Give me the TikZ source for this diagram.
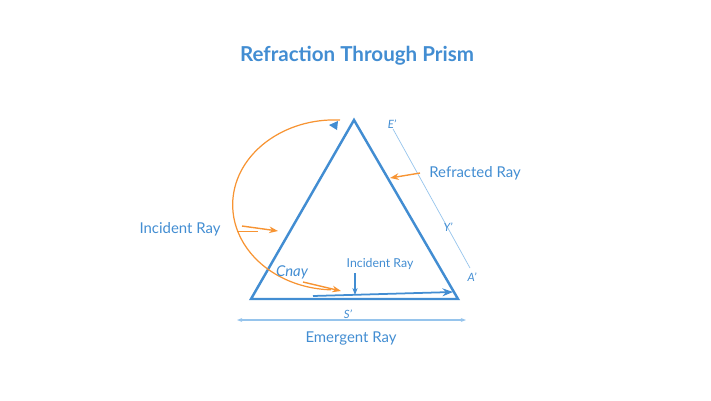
\documentclass[tikz,border=0pt]{standalone}
\usepackage{fontspec}
\setmainfont{Lato}
\usetikzlibrary{arrows.meta,positioning,calc}

\definecolor{prismblue}{RGB}{66,141,210}
\definecolor{rayorange}{RGB}{247,148,51}
\definecolor{guideblue}{RGB}{150,196,236}

\begin{document}
\begin{tikzpicture}[x=0.02cm, y=-0.02cm, every node/.style={font=\fontsize{8.5}{10}\selectfont, text=prismblue}]
				\useasboundingbox (0,0) rectangle (711,400);
				\node[font=\fontsize{11.7}{14}\selectfont\bfseries] (title) at (357,56) {Refraction Through Prism};
				% prism
				\coordinate (apex) at (354,120);
				\coordinate (bl) at (251,299);
				\coordinate (br) at (458,299);
				\draw[prismblue, line width=1.4pt, line join=miter] (apex) -- (br) -- (bl) -- cycle;
				% guide line on the right
				\coordinate (e1) at (393,129);
				\coordinate (a1) at (470,268);
				\draw[guideblue, line width=0.4pt] (e1) -- (a1);
				\node[font=\fontsize{6.5}{7}\selectfont\itshape] (eprime) at (392,124) {E'};
				\node[font=\fontsize{6.5}{7}\selectfont\itshape] (yprime) at (448,227) {Y'};
				\node[font=\fontsize{6.5}{7}\selectfont\itshape] (aprime) at (472,277) {A'};
				% refracted ray
				\node (refr) at (475,173) {Refracted Ray};
				\coordinate (r1) at (420,173);
				\coordinate (r2) at (390,178);
				\draw[-{Stealth[length=5pt]}, rayorange, line width=0.8pt] (r1) -- (r2);
				% big orange arc
				\coordinate (arcstart) at (340,120);
				\draw[rayorange, line width=0.7pt] (arcstart) arc[start angle=-87, end angle=-268, x radius=102, y radius=85];
				\fill[prismblue] (329,125) -- (338,121) -- (337,130) -- cycle;
				% incident ray (left)
				\node (incleft) at (180,229) {Incident Ray};
				\coordinate (i1) at (242,226);
				\coordinate (i2) at (278,231);
				\coordinate (i3) at (237,231);
				\coordinate (i4) at (258,231);
				\draw[-{Stealth[length=5pt]}, rayorange, line width=0.8pt] (i1) -- (i2);
				\draw[rayorange, line width=0.5pt] (i3) -- (i4);
				% inner labels
				\node[font=\fontsize{8.5}{10}\selectfont\itshape] (cnay) at (292,272) {Cnay};
				\coordinate (c1) at (303,282);
				\coordinate (c2) at (341,291);
				\draw[-{Stealth[length=5pt]}, rayorange, line width=0.8pt] (c1) -- (c2);
				\node[font=\fontsize{7}{8}\selectfont] (incin) at (380,264) {Incident Ray};
				\coordinate (d1) at (355,273);
				\coordinate (d2) at (355,295);
				\draw[-{Stealth[length=4pt]}, prismblue, line width=0.7pt] (d1) -- (d2);
				\coordinate (b1) at (313,296);
				\coordinate (b2) at (453,292);
				\draw[-{Stealth[length=6pt]}, prismblue, line width=1pt] (b1) -- (b2);
				% base measure
				\coordinate (s1) at (237,320);
				\coordinate (s2) at (466,320);
				\draw[{Stealth[length=3pt]}-{Stealth[length=3pt]}, guideblue, line width=0.6pt] (s1) -- (s2);
				\node[font=\fontsize{6.5}{7}\selectfont\itshape] (sprime) at (348,314) {S'};
				\node (emerg) at (351,339) {Emergent Ray};
			\end{tikzpicture}
\end{document}
